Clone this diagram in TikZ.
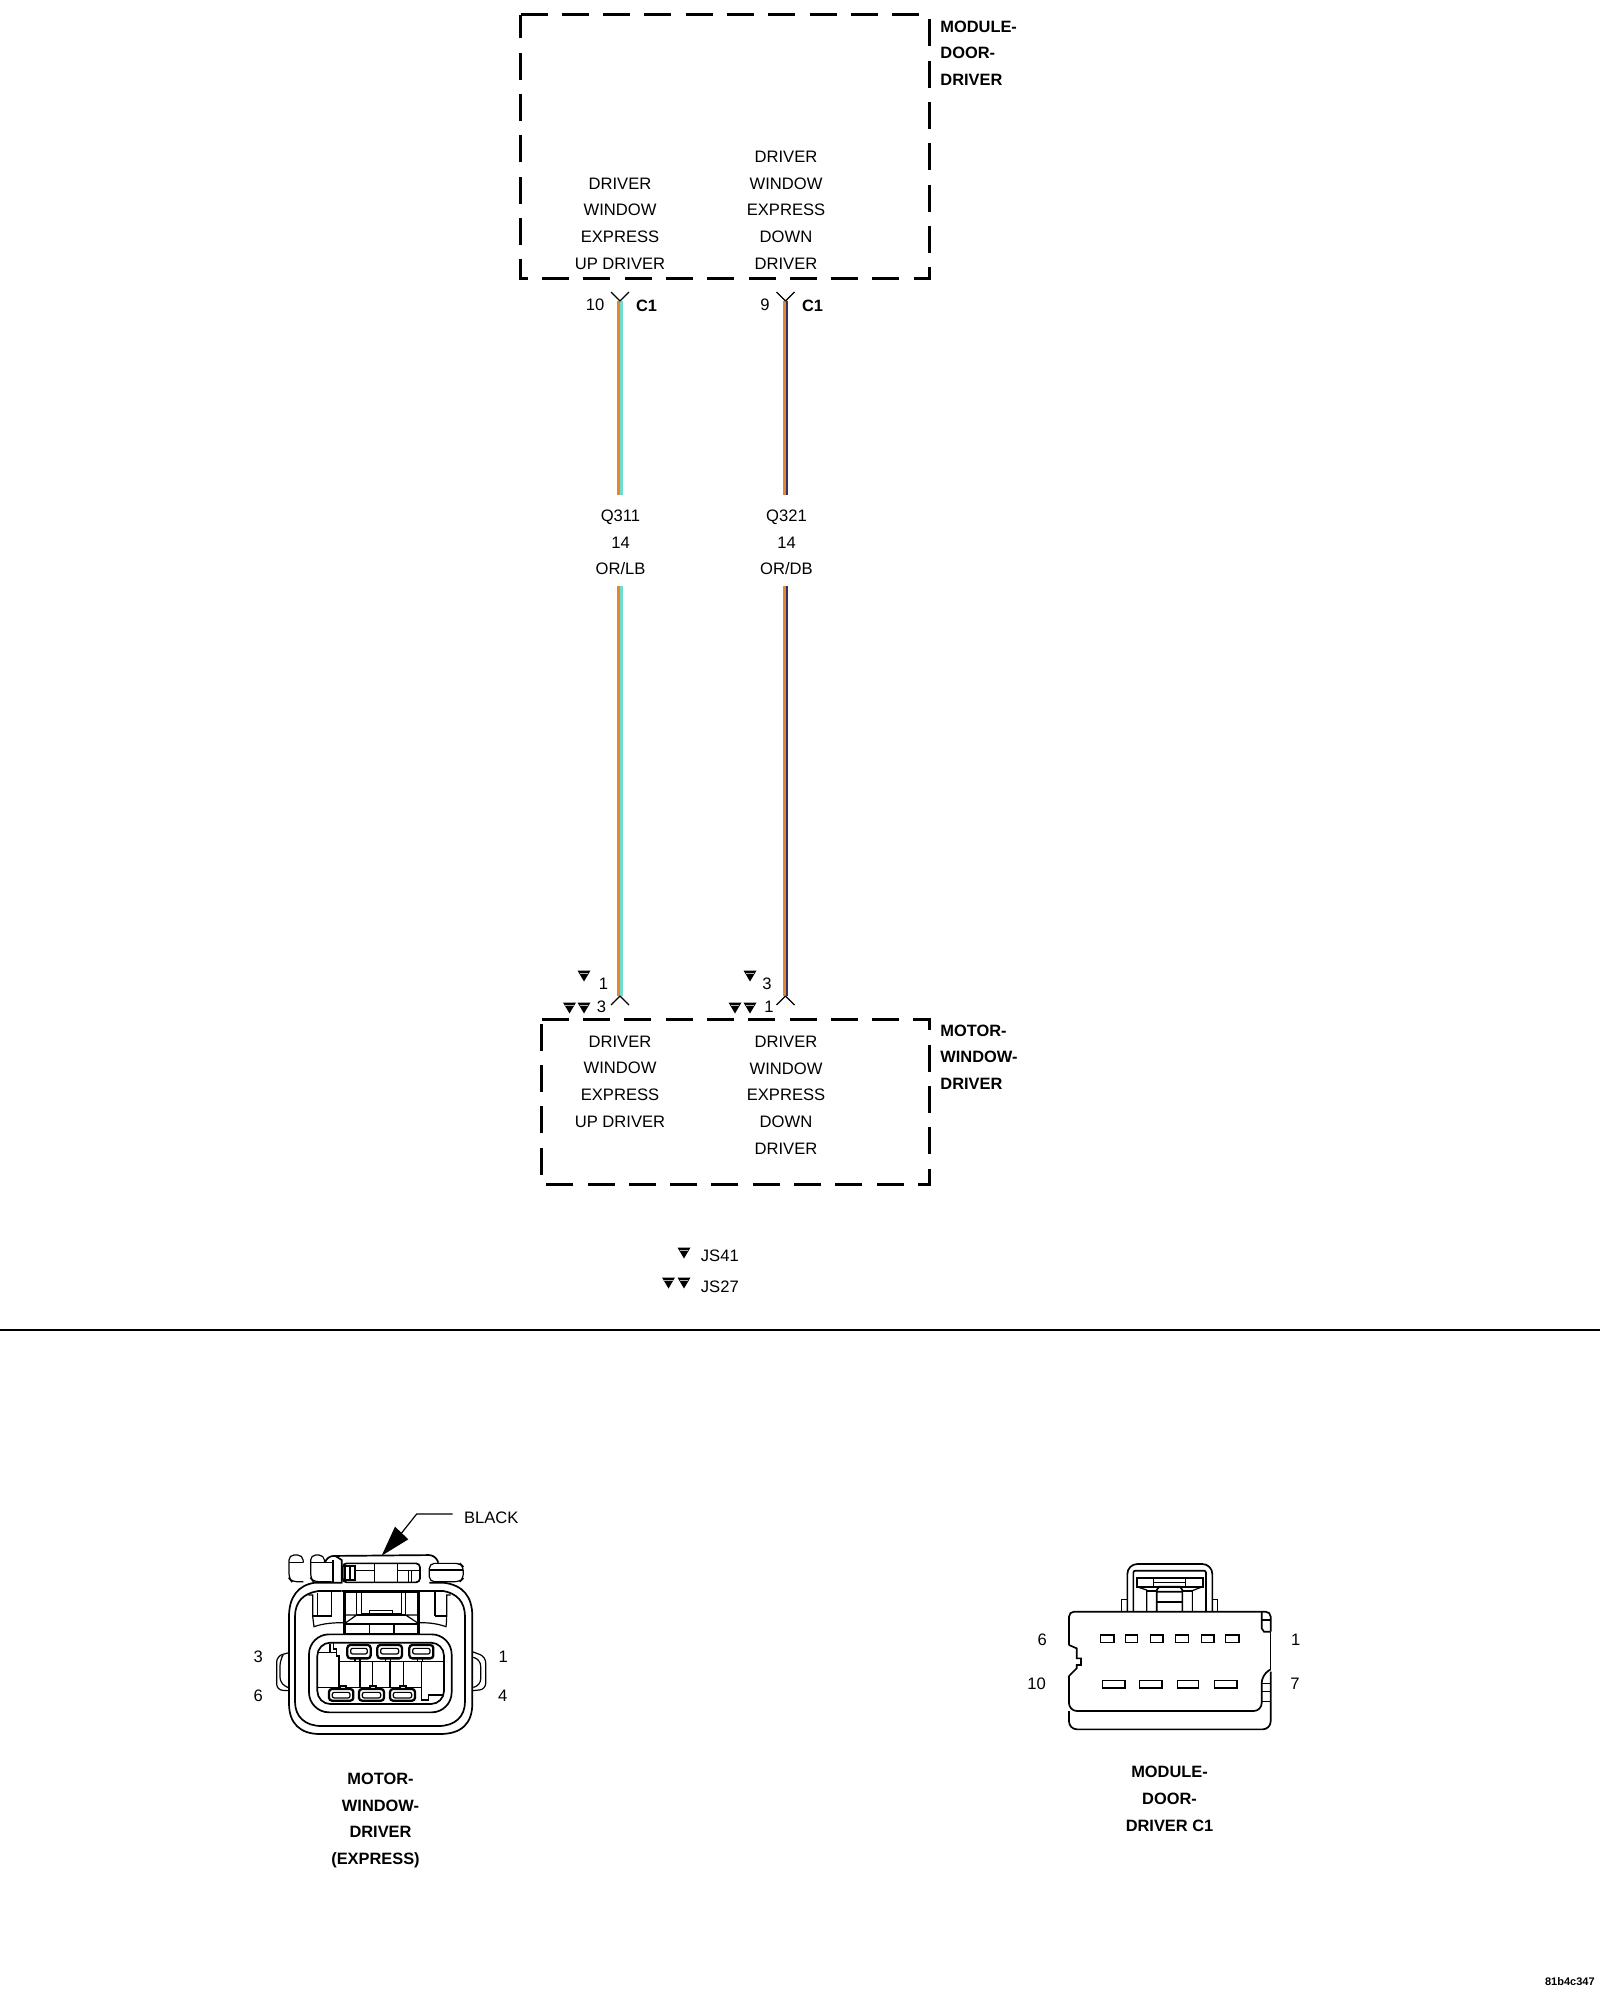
\documentclass[tikz,border=0pt]{standalone}
\usepackage{fontspec}
\setmainfont{Liberation Sans}
\definecolor{wire_or}{HTML}{E8842C}
\definecolor{wire_lb}{HTML}{6FDCD0}
\definecolor{wire_db}{HTML}{2E3566}
\begin{document}
\begin{tikzpicture}[x=0.5pt,y=-0.5pt]
      \tikzstyle{sigtext}=[inner sep=0pt,align=center,font=\fontsize{8.3}{13.35}\selectfont]
      \tikzstyle{boldtext}=[inner sep=0pt,align=left,anchor=west,font=\bfseries\fontsize{8.2}{13.35}\selectfont]
      \tikzstyle{captext}=[inner sep=0pt,align=center,font=\bfseries\fontsize{8.2}{13.35}\selectfont]
      \tikzstyle{pinno}=[inner sep=0pt,font=\fontsize{8.3}{10}\selectfont]
      \tikzstyle{modbox}=[line width=1.5pt,dash pattern=on 13.5pt off 7.15pt,miter limit=10]
      \tikzstyle{orstripe}=[draw=wire_or,line width=1.7pt,transform canvas={xshift=-0.65pt}]
      \tikzstyle{lbstripe}=[draw=wire_lb,line width=1.3pt,transform canvas={xshift=0.85pt}]
      \tikzstyle{dbstripe}=[draw=wire_db,line width=1.1pt,transform canvas={xshift=0.9pt}]
      \tikzstyle{contact}=[line width=0.55pt]
      \tikzstyle{outline}=[line width=0.85pt]
      \tikzstyle{fine}=[line width=0.6pt]
      \tikzstyle{pinbox}=[line width=1.15pt,rounded corners=1.5pt]
      \tikzset{splice/.pic={\fill (-6.5,-5.5) -- (6.5,-5.5) -- (0,5.5) -- cycle;
        \draw[gray!60,line width=0.2pt] (-4.2,-3) -- (4.2,-3);}}
      \useasboundingbox (0,0) rectangle (1600,2000);

      % upper module
      \draw[modbox] (520.5,15) -- (929,15) -- (929,279) -- (520.5,279) -- cycle;
      \node (door_up) [sigtext] at (620,223.5) {DRIVER\\WINDOW\\EXPRESS\\UP DRIVER};
      \node (door_down) [sigtext] at (786,210) {DRIVER\\WINDOW\\EXPRESS\\DOWN\\DRIVER};
      \node (door_name) [boldtext] at (940,53) {MODULE-\\DOOR-\\DRIVER};

      % lower module
      \draw[modbox] (541.7,1019) -- (929,1019) -- (929,1184.5) -- (541.7,1184.5) -- cycle;
      \node (motor_up) [sigtext] at (620,1081.5) {DRIVER\\WINDOW\\EXPRESS\\UP DRIVER};
      \node (motor_down) [sigtext] at (786,1095) {DRIVER\\WINDOW\\EXPRESS\\DOWN\\DRIVER};
      \node (motor_name) [boldtext] at (940,1057) {MOTOR-\\WINDOW-\\DRIVER};

      % wires
      \coordinate (q311_a) at (620,301);
      \coordinate (q311_b) at (620,495);
      \coordinate (q311_c) at (620,586);
      \coordinate (q311_d) at (620,996);
      \coordinate (q321_a) at (785.5,301);
      \coordinate (q321_b) at (785.5,495);
      \coordinate (q321_c) at (785.5,586);
      \coordinate (q321_d) at (785.5,996);
      \draw[orstripe] (q311_a) -- (q311_b);
      \draw[lbstripe] (q311_a) -- (q311_b);
      \draw[orstripe] (q311_c) -- (q311_d);
      \draw[lbstripe] (q311_c) -- (q311_d);
      \draw[orstripe] (q321_a) -- (q321_b);
      \draw[dbstripe] (q321_a) -- (q321_b);
      \draw[orstripe] (q321_c) -- (q321_d);
      \draw[dbstripe] (q321_c) -- (q321_d);
      \node (q311) [sigtext] at (620.5,542.5) {Q311\\14\\OR/LB};
      \node (q321) [sigtext] at (786.5,542.5) {Q321\\14\\OR/DB};

      % terminals
      \draw[contact] (q311_a) -- ++(-9,-9) (q311_a) -- ++(9,-9);
      \draw[contact] (q321_a) -- ++(-9,-9) (q321_a) -- ++(9,-9);
      \draw[contact] (q311_d) -- ++(-9,9) (q311_d) -- ++(9,9);
      \draw[contact] (q321_d) -- ++(-9,9) (q321_d) -- ++(9,9);
      \node (pin_10) [pinno] at (595,304.5) {10};
      \node (pin_9) [pinno] at (765,304.5) {9};
      \node (c1_a) [captext] at (646.5,305.5) {C1};
      \node (c1_b) [captext] at (812.5,305.5) {C1};
      \node (pin_1a) [pinno] at (603.5,984) {1};
      \node (pin_3a) [pinno] at (601.5,1006.5) {3};
      \node (pin_3b) [pinno] at (767,984) {3};
      \node (pin_1b) [pinno] at (769,1006.5) {1};
      \pic at (584,976) {splice};
      \pic at (569.5,1008) {splice};
      \pic at (584,1008) {splice};
      \pic at (750,976) {splice};
      \pic at (735,1008) {splice};
      \pic at (750,1008) {splice};

      % legend
      \pic at (684,1253) {splice};
      \pic at (668.5,1283) {splice};
      \pic at (684,1283) {splice};
      \node (js41) [pinno,anchor=west] at (700.5,1255.5) {JS41};
      \node (js27) [pinno,anchor=west] at (700.5,1286.5) {JS27};

      \coordinate (rule_l) at (0,1329.5);
      \coordinate (rule_r) at (1600,1329.5);
      \draw[line width=1pt] (rule_l) -- (rule_r);

      % motor connector view
      \begin{scope}[shift={(240,1480)},scale=1/3]
        \node (black_tag) [pinno] at (754,112) {BLACK};
        \draw[fine] (638,102) -- (530,102) -- (480,165);
        \fill (425,227) -- (465,140) -- (505,178) -- cycle;
        \node (pin_3) [pinno] at (55,529) {3};
        \node (pin_6) [pinno] at (55,647) {6};
        \node (pin_1) [pinno] at (790,529) {1};
        \node (pin_4) [pinno] at (788,647) {4};
        % tabs
        \draw[fine,rounded corners=2.5pt] (190,305) -- (155,305) -- (147,295) -- (147,225) -- (188,225) -- (190,248);
        \draw[fine,rounded corners=2.5pt] (275,305) -- (220,305) -- (212,295) -- (212,225) -- (252,225) -- (254,248);
        \draw[fine] (147,248) -- (190,248) (212,248) -- (275,248);
        \draw[outline,rounded corners=3pt] (255,248) -- (262,228) -- (585,225) -- (595,248);
        \draw[outline] (305,310) -- (305,240) -- (285,227);
        \draw[outline] (278,240) -- (278,305);
        \draw[fine,rounded corners=2.5pt] (568,250) -- (660,250) -- (670,260) -- (670,295) -- (660,305) -- (568,305) -- cycle;
        \draw[fine] (570,270) -- (670,270);
        % window
        \draw[outline,rounded corners=2pt] (308,250) -- (540,250) -- (540,307) -- (308,307) -- cycle;
        \draw[outline] (315,258) rectangle (345,300);
        \draw[fine] (330,258) -- (330,300) (345,272) -- (403,272) (403,250) -- (403,307) (472,250) -- (472,307);
        \draw[fine] (472,272) -- (540,272) (505,272) -- (505,307) (515,272) -- (515,307);
        % shell
        \draw[outline] (305,308) -- (225,308) .. controls (175,315) and (147,350) .. (147,410)
          -- (147,670) .. controls (147,730) and (180,762) .. (240,762) -- (600,762)
          .. controls (665,762) and (697,730) .. (697,670) -- (697,410)
          .. controls (697,350) and (670,315) .. (610,308) -- (568,308);
        \draw[outline] (305,333) -- (235,333) .. controls (190,340) and (165,365) .. (165,410)
          -- (165,665) .. controls (165,710) and (195,738) .. (245,738) -- (595,738)
          .. controls (645,738) and (675,710) .. (675,665) -- (675,410)
          .. controls (675,365) and (650,340) .. (610,333) -- (570,333);
        \draw[outline] (305,333) -- (570,333);
        % latches
        \draw[fine,rounded corners=3pt] (147,518) -- (110,528) -- (110,630) -- (147,632);
        \draw[fine,rounded corners=3pt] (125,532) -- (120,540) -- (120,610) -- (147,624);
        \draw[fine,rounded corners=3pt] (697,515) -- (737,530) -- (737,628) -- (697,632);
        \draw[fine,rounded corners=3pt] (700,532) -- (722,540) -- (722,615) -- (700,622);
        % upper inner details
        \draw[outline] (312,335) rectangle (538,460) (316,338) -- (316,460) (534,338) -- (534,460);
        \draw[fine] (205,345) -- (218,345) -- (218,408) .. controls (220,425) and (222,440) .. (222,440)
          .. controls (250,430) and (280,428) .. (312,428);
        \draw[fine] (218,408) -- (275,408) (232,338) -- (232,408) (275,335) -- (275,408);
        \draw[fine] (632,345) -- (620,345) -- (620,408) .. controls (620,425) and (618,440) .. (618,440)
          .. controls (590,430) and (565,428) .. (538,428);
        \draw[fine] (620,408) -- (585,408) (585,335) -- (585,408);
        \draw[fine] (350,338) -- (350,405) (365,338) -- (365,405) (485,338) -- (485,405) (497,338) -- (497,405);
        \draw[fine] (316,405) -- (350,405) -- (312,432) (497,405) -- (534,405) (497,405) -- (538,432);
        \draw[fine] (350,405) -- (497,405) (388,392) -- (458,392) -- (458,400) (388,392) -- (388,400) (365,400) -- (485,400);
        \draw[fine] (312,432) -- (538,432) (388,432) -- (388,462) (462,432) -- (462,462);
        % cavity
        \draw[outline,rounded corners=10pt] (207,463) rectangle (635,697);
        \draw[outline,rounded corners=6.5pt] (232,488) rectangle (612,672);
        \draw[fine] (232,517) -- (270,517) (270,492) -- (270,517) -- (290,517) -- (290,528) -- (297,528) -- (297,622);
        \draw[fine] (280,490) -- (280,507) -- (290,507) -- (290,517);
        \draw[fine] (297,545) -- (612,545) (232,622) -- (545,622);
        \draw[fine] (360,545) -- (360,622) (397,545) -- (397,622) (450,545) -- (450,622) (490,545) -- (490,622) (545,545) -- (545,660) -- (565,660) -- (565,645) -- (612,645);
        % pins
        \draw[fill=white,fine] (345,535) rectangle (360,545) (437,535) rectangle (452,545) (533,535) rectangle (548,545);
        \draw[fill=white,fine] (300,618) rectangle (318,627) (390,618) rectangle (408,627) (480,618) rectangle (498,627);
        \draw[pinbox] (322,495) rectangle (392,535) (412,495) rectangle (486,535) (508,495) rectangle (580,535);
        \draw[pinbox] (267,627) rectangle (340,662) (357,627) rectangle (432,662) (450,627) rectangle (525,662);
        \draw[fine,rounded corners=1pt] (332,505) rectangle (382,522) (422,505) rectangle (476,522) (518,505) rectangle (570,522);
        \draw[fine,rounded corners=1pt] (277,637) rectangle (330,654) (367,637) rectangle (422,654) (460,637) rectangle (515,654);
      \end{scope}
      \node (motor_cap) [captext] at (380.5,1805.5) {MOTOR-\\WINDOW-\\DRIVER};
      \node (motor_exp) [captext] at (375.5,1860) {(EXPRESS)};

      % module connector view
      \begin{scope}[shift={(1020,1550)},scale=1/3]
        \node (pin_6c) [pinno] at (67,268) {6};
        \node (pin_1c) [pinno] at (827,268) {1};
        \node (pin_10c) [pinno] at (50,400) {10};
        \node (pin_7c) [pinno] at (825,400) {7};
        % body
        \draw[outline,rounded corners=2.5pt] (147,285) -- (147,185) -- (752,185) -- (752,245);
        \draw[outline] (147,285) -- (170,295) -- (170,325) -- (183,325) -- (183,345) -- (170,345) -- (170,355) -- (147,378);
        \draw[outline,rounded corners=4pt] (147,378) -- (147,483) -- (725,483) -- (725,375) -- (752,358);
        \draw[outline,rounded corners=4pt] (147,483) -- (147,538) -- (752,538) -- (752,365);
        \draw[fine] (752,245) -- (752,358);
        \draw[outline] (725,185) -- (725,235) -- (732,245) -- (752,245) (725,210) -- (752,210);
        \draw[fine] (725,400) -- (752,400) (725,425) -- (752,425) (725,455) -- (752,455);
        % latch
        \draw[outline,rounded corners=5pt] (322,185) -- (322,42) -- (577,42) -- (577,185);
        \draw[outline,rounded corners=1pt] (340,185) -- (340,62) -- (558,62) -- (558,185);
        \draw[fine] (322,148) -- (305,148) -- (305,185) (577,148) -- (592,148) -- (592,185);
        \draw[outline] (350,83) rectangle (548,110);
        \draw[fine] (400,83) -- (400,97) -- (497,97) -- (497,83) (400,97) -- (400,110) (497,97) -- (497,110);
        \draw[fine] (350,110) -- (380,120) -- (380,185) (548,110) -- (517,122) -- (517,185);
        \draw[outline] (410,185) -- (410,120) -- (418,110) -- (480,110) -- (487,120) -- (487,185) (410,125) -- (487,125);
        \draw[line width=0.9pt] (410,157) -- (487,157);
        \draw[fine] (380,123) -- (410,123) (487,123) -- (517,123);
        % pins
        \draw[outline] (241,255) rectangle (281,277) (316,255) rectangle (352,277) (391,255) rectangle (428,277);
        \draw[outline] (466,255) rectangle (505,277) (544,255) rectangle (581,277) (616,255) rectangle (656,277);
        \draw[outline] (247,391) rectangle (314,413) (358,391) rectangle (425,413);
        \draw[outline] (472,391) rectangle (535,413) (583,391) rectangle (650,413);
      \end{scope}
      \node (door_cap) [captext] at (1169.5,1799) {MODULE-\\DOOR-\\DRIVER C1};
      \node (part_no) [inner sep=0pt,anchor=east,font=\bfseries\fontsize{5.5}{7}\selectfont] at (1595,1982) {81b4c347};
\end{tikzpicture}
\end{document}
